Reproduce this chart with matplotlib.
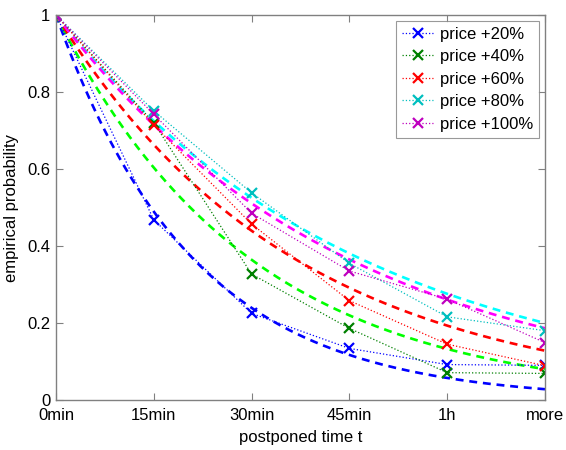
import numpy as np
import matplotlib
matplotlib.use("Agg")
import matplotlib.pyplot as plt

plt.rcParams['font.family'] = ['Liberation Sans', 'DejaVu Sans']

categories = ["0min", "15min", "30min", "45min", "1h", "more"]
labels = ["price +20%", "price +40%", "price +60%", "price +80%", "price +100%"]

emp_20 = [1.0, 0.468, 0.225, 0.134, 0.092, 0.090]
emp_40 = [1.0, 0.720, 0.327, 0.186, 0.071, 0.069]
emp_60 = [1.0, 0.714, 0.457, 0.258, 0.145, 0.089]
emp_80 = [1.0, 0.751, 0.538, 0.355, 0.216, 0.180]
emp_100 = [1.0, 0.742, 0.485, 0.335, 0.262, 0.149]
empirical = [emp_20, emp_40, emp_60, emp_80, emp_100]

# fitted exponential decay rates (per category step)
fit_rates = [0.715, 0.505, 0.411, 0.322, 0.336]

marker_colors = [(0, 0, 1), (0, 0.5, 0), (1, 0, 0), (0, 0.75, 0.75), (0.75, 0, 0.75)]
fit_colors = [(0, 0, 1), (0, 1, 0), (1, 0, 0), (0, 1, 1), (1, 0, 1)]

fig = plt.figure(figsize=(5.66, 4.5), dpi=100)
ax = fig.add_axes([56/566, 50/450, (545-56)/566, (400-15)/450])

x = np.arange(len(categories))
xf = np.linspace(0, len(categories) - 1, 200)

handles = []
for k, fc in zip(fit_rates, fit_colors):
    ax.plot(xf, np.exp(-k * xf), linestyle=(0, (3, 2.2)), color=fc, linewidth=1.9)
for emp, mc, lab in zip(empirical, marker_colors, labels):
    h, = ax.plot(x, emp, linestyle=':', color=mc, linewidth=0.9, marker='x',
                 markersize=7, markeredgewidth=1.6, label=lab)
    handles.append(h)

ax.set_xlim(0, 5)
ax.set_ylim(0, 1)
ax.set_xticks(x)
ax.set_xticklabels(categories)
ax.set_yticks([0, 0.2, 0.4, 0.6, 0.8, 1.0])
ax.set_yticklabels(["0", "0.2", "0.4", "0.6", "0.8", "1"])
ax.tick_params(direction='in', top=True, right=True, labelsize=12, length=5,
               color='#808080')
ax.tick_params(axis='x', pad=6)
ax.tick_params(axis='y', pad=4)
for s in ax.spines.values():
    s.set_color('#808080')
    s.set_linewidth(1.0)
ax.set_xlabel("postponed time t", fontsize=12, labelpad=5)
ax.set_ylabel("empirical probability", fontsize=12, labelpad=6)

leg = ax.legend(handles=handles, loc='upper right', fontsize=12, frameon=True,
                fancybox=False, edgecolor='#808080', handlelength=1.9,
                borderaxespad=0.35, labelspacing=0.45, handletextpad=0.4,
                borderpad=0.35)
leg.get_frame().set_linewidth(0.8)

fig.savefig("out.png", dpi=100)
